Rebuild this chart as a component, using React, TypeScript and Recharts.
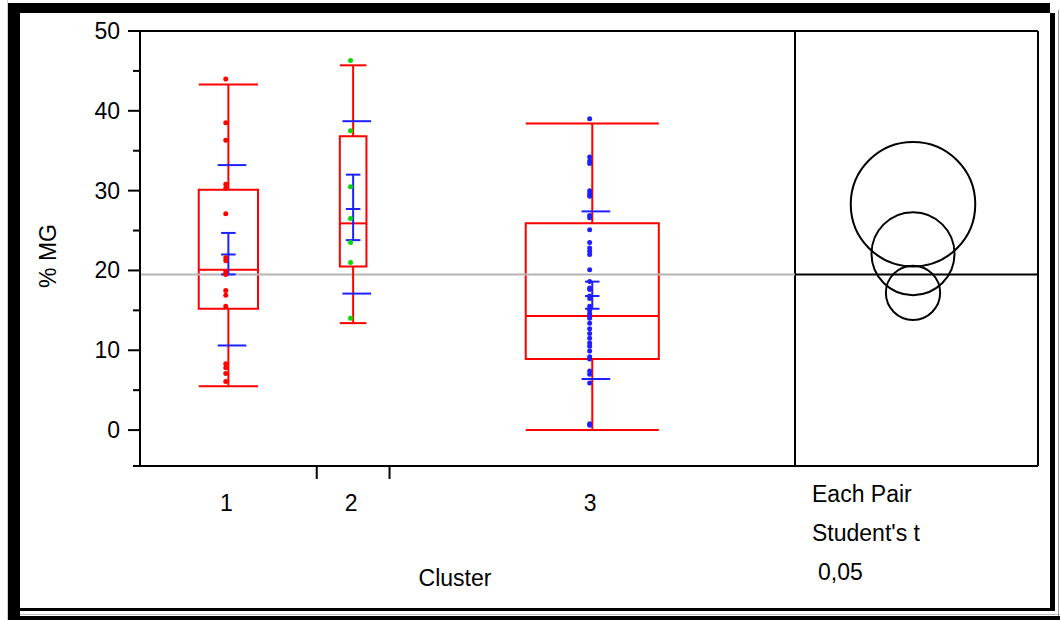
import React from 'react';
import { ComposedChart, Scatter, XAxis, YAxis, ReferenceLine, ReferenceArea } from 'recharts';

// Oneway analysis of %MG by Cluster (JMP style)
const clusters = ['1', '2', '3'];
const groupN = [17, 7, 39]; // x widths are proportional to group size

const pts1 = [44.0, 38.5, 36.3, 30.8, 30.3, 27.1, 21.6, 21.2, 19.8, 19.5, 17.5, 16.9, 15.5, 8.3, 7.8, 7.1, 6.1];
const pts2 = [46.3, 37.5, 30.5, 26.5, 23.5, 21.0, 14.0];
const pts3 = [
  39.0, 34.2, 33.7, 33.4, 30.0, 29.6, 29.3, 26.9, 26.6, 25.1, 23.5, 22.8, 22.4, 22.0, 20.1, 18.6, 17.8, 17.6, 16.8, 16.5,
  15.5, 15.0, 14.6, 14.3, 14.0, 13.4, 12.7, 12.1, 11.5, 10.9, 10.5, 9.9, 9.2, 8.9, 7.4, 7.0, 5.9, 0.8, 0.6,
];

// box plot quantiles
const whiskLo = [5.5, 13.4, 0.0];
const q1 = [15.2, 20.5, 8.9];
const median = [20.1, 25.9, 14.3];
const q3 = [30.1, 36.8, 25.9];
const whiskHi = [43.3, 45.7, 38.4];

// means, 95% CI and std dev lines
const means = [22.0, 27.7, 16.8];
const ciLo = [19.5, 23.8, 15.2];
const ciHi = [24.7, 32.0, 18.6];
const sdLo = [10.6, 17.1, 6.4];
const sdHi = [33.2, 38.7, 27.4];
const grandMean = 19.5;

// comparison circles (Each Pair, Student's t, 0.05)
const circleCenter = [22.1, 28.3, 17.2];
const circleRadius = [5.2, 7.8, 3.4];

const yTicks = [0, 5, 10, 15, 20, 25, 30, 35, 40, 45, 50];

// layout
const W = 1060;
const H = 620;
const FONT = '"Liberation Sans", Arial, sans-serif';
const RED = '#ff0000';
const BLUE = '#2020ff';
const GREEN = '#00dd00';
const pointColors = [RED, GREEN, BLUE];
const boxHalf = [2.85, 1.28, 6.4];
const sdHalf = 1.38;
const sdShift = 0.35;
const ciHalf = 0.7;
const ptShift = -0.25;

const total = groupN.reduce((a, b) => a + b, 0);
const starts = groupN.map((_, i) => groupN.slice(0, i).reduce((a, b) => a + b, 0));
const centers = groupN.map((n, i) => starts[i] + n / 2);
const bounds = starts.slice(1);
const X_MAX = total / 0.7294; // right panel takes the rest of the frame
const circleX = 74.35;

const pointSets = [pts1, pts2, pts3].map((arr, i) => arr.map((v) => ({ x: centers[i] + ptShift, y: v })));

const YTick = (props: any) => {
  const { x, y, payload } = props;
  const v = payload.value;
  const major = v % 10 === 0;
  return (
    <g>
      <line x1={x - (major ? 12 : 7)} x2={x} y1={y} y2={y} stroke="#000" strokeWidth={2} />
      {major && (
        <text x={x - 20} y={y} dy={8} textAnchor="end" fontSize={23} fontFamily={FONT} fill="#000">
          {v}
        </text>
      )}
    </g>
  );
};

const XTick = (props: any) => {
  const { x, y, payload } = props;
  const idx = centers.indexOf(payload.value);
  if (idx >= 0) {
    return (
      <text x={x - 2} y={y + 45} textAnchor="middle" fontSize={23} fontFamily={FONT} fill="#000">
        {clusters[idx]}
      </text>
    );
  }
  return <line x1={x} x2={x} y1={y} y2={y + 13} stroke="#000" strokeWidth={2} />;
};

const seg = (x1: number, y1: number, x2: number, y2: number) => [
  { x: x1, y: y1 },
  { x: x2, y: y2 },
];

const Circle = (props: any) => {
  const { x, y, width, height } = props;
  return <circle cx={x + width / 2} cy={y + height / 2} r={height / 2} fill="none" stroke="#000" strokeWidth={2} />;
};

export default function App() {
  const lines: React.ReactNode[] = [];
  centers.forEach((c, i) => {
    const bh = boxHalf[i];
    // whiskers
    lines.push(<ReferenceLine key={`wl${i}`} segment={seg(c, whiskLo[i], c, q1[i])} stroke={RED} strokeWidth={2} />);
    lines.push(<ReferenceLine key={`wh${i}`} segment={seg(c, q3[i], c, whiskHi[i])} stroke={RED} strokeWidth={2} />);
    lines.push(<ReferenceLine key={`cl${i}`} segment={seg(c - bh, whiskLo[i], c + bh, whiskLo[i])} stroke={RED} strokeWidth={2} />);
    lines.push(<ReferenceLine key={`ch${i}`} segment={seg(c - bh, whiskHi[i], c + bh, whiskHi[i])} stroke={RED} strokeWidth={2} />);
    lines.push(<ReferenceLine key={`md${i}`} segment={seg(c - bh, median[i], c + bh, median[i])} stroke={RED} strokeWidth={2} />);
    // std dev lines
    lines.push(<ReferenceLine key={`sl${i}`} segment={seg(c + sdShift - sdHalf, sdLo[i], c + sdShift + sdHalf, sdLo[i])} stroke={BLUE} strokeWidth={2} />);
    lines.push(<ReferenceLine key={`sh${i}`} segment={seg(c + sdShift - sdHalf, sdHi[i], c + sdShift + sdHalf, sdHi[i])} stroke={BLUE} strokeWidth={2} />);
    // mean with CI
    lines.push(<ReferenceLine key={`cv${i}`} segment={seg(c, ciLo[i], c, ciHi[i])} stroke={BLUE} strokeWidth={2} />);
    [ciLo[i], means[i], ciHi[i]].forEach((v, k) =>
      lines.push(<ReferenceLine key={`ct${i}-${k}`} segment={seg(c - ciHalf, v, c + ciHalf, v)} stroke={BLUE} strokeWidth={2} />)
    );
  });

  return (
    <div style={{ position: 'absolute', left: 0, top: 0, width: W, height: H, background: '#fff' }}>
      <ComposedChart width={W} height={H} margin={{ top: 31, right: 22, bottom: 114, left: 0 }}>
        <XAxis
          type="number"
          dataKey="x"
          domain={[0, X_MAX]}
          ticks={[...centers, ...bounds].sort((a, b) => a - b)}
          interval={0}
          tickSize={0}
          tickMargin={0}
          tickLine={false}
          tick={<XTick />}
          axisLine={{ stroke: '#000', strokeWidth: 2 }}
          height={40}
          allowDataOverflow
        />
        <YAxis
          type="number"
          dataKey="y"
          domain={[-4.5, 50]}
          ticks={yTicks}
          interval={0}
          tickSize={0}
          tickMargin={0}
          tickLine={false}
          tick={<YTick />}
          axisLine={{ stroke: '#000', strokeWidth: 2 }}
          width={140}
          allowDataOverflow
        />
        {/* frame: top, right, separator of comparison-circle panel */}
        <ReferenceLine segment={seg(0, 50, X_MAX, 50)} stroke="#000" strokeWidth={2} />
        <ReferenceLine segment={seg(X_MAX, -4.5, X_MAX, 50)} stroke="#000" strokeWidth={2} />
        <ReferenceLine segment={seg(total, -4.5, total, 50)} stroke="#000" strokeWidth={2} />
        <ReferenceLine segment={seg(0, grandMean, total, grandMean)} stroke="#b4b4b4" strokeWidth={2} />
        <ReferenceLine segment={seg(total, grandMean, X_MAX, grandMean)} stroke="#000" strokeWidth={2} />
        {centers.map((c, i) => (
          <ReferenceArea
            key={`box${i}`}
            x1={c - boxHalf[i]}
            x2={c + boxHalf[i]}
            y1={q1[i]}
            y2={q3[i]}
            fill="none"
            fillOpacity={0}
            stroke={RED}
            strokeWidth={2}
            strokeOpacity={1}
          />
        ))}
        {lines}
        {circleCenter.map((cy, i) => (
          <ReferenceArea
            key={`circ${i}`}
            x1={circleX - 2}
            x2={circleX + 2}
            y1={cy - circleRadius[i]}
            y2={cy + circleRadius[i]}
            shape={<Circle />}
          />
        ))}
        {pointSets.map((d, i) => (
          <Scatter
            key={`pts${i}`}
            data={d}
            dataKey="y"
            isAnimationActive={false}
            shape={(p: any) => <circle cx={p.cx} cy={p.cy} r={2.5} fill={pointColors[i]} />}
          />
        ))}
      </ComposedChart>
      <svg width={W} height={H} style={{ position: 'absolute', left: 0, top: 0, pointerEvents: 'none' }}>
        {/* window border */}
        <rect x={7} y={0} width={1} height={H} fill="#cfcfcf" />
        <rect x={8} y={3} width={1042} height={10} fill="#000" />
        <rect x={8} y={3} width={12} height={617} fill="#000" />
        <rect x={1050} y={13} width={5} height={598} fill="#000" />
        <rect x={20} y={608} width={1035} height={3} fill="#000" />
        <rect x={20} y={614} width={1040} height={1} fill="#bdbdbd" />
        <rect x={8} y={616} width={1052} height={4} fill="#000" />
        <rect x={1058} y={10} width={1} height={606} fill="#9a9a9a" />
        {/* x axis stub left of the y axis */}
        <rect x={133} y={465} width={8} height={2} fill="#000" />
        {/* titles */}
        <text
          x={56}
          y={256}
          transform="rotate(-90 56 256)"
          textAnchor="middle"
          fontSize={23}
          fontFamily={FONT}
        >
          % MG
        </text>
        <text x={455} y={586} textAnchor="middle" fontSize={23} fontFamily={FONT}>
          Cluster
        </text>
        <text x={812} y={502} fontSize={23} fontFamily={FONT}>
          Each Pair
        </text>
        <text x={812} y={541} fontSize={23} fontFamily={FONT}>
          Student's t
        </text>
        <text x={818} y={580} fontSize={23} fontFamily={FONT}>
          0,05
        </text>
      </svg>
    </div>
  );
}
